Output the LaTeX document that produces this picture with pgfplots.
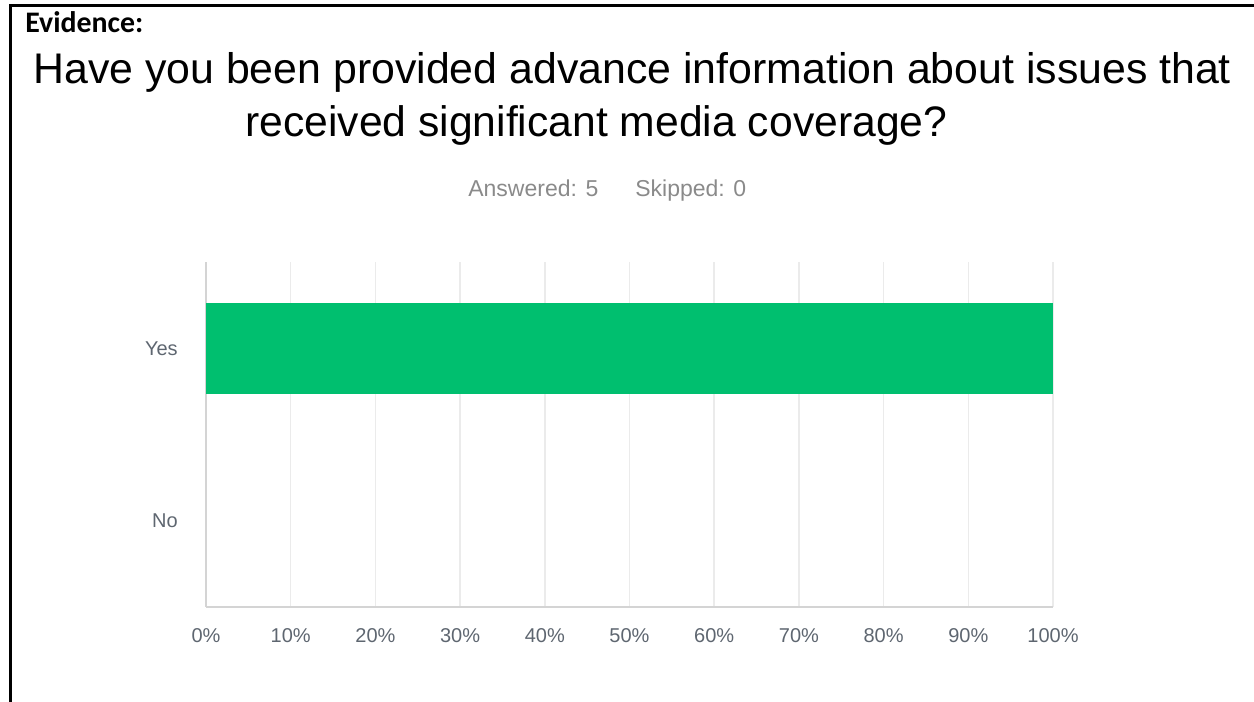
\documentclass[border=0pt]{standalone}
\usepackage{pgfplots}
\pgfplotsset{compat=1.18}
\usepackage{fontspec}
\setmainfont{Liberation Sans}
\newfontfamily\calibri{Carlito}
\definecolor{smgreen}{HTML}{00BF6F}
\definecolor{gridgray}{HTML}{EBEBEB}
\definecolor{axisgray}{HTML}{D4D4D4}
\definecolor{labelgray}{HTML}{5E6670}
\definecolor{subgray}{HTML}{8A8A8A}

% 1 px of the reference = 0.6pt
\begin{document}
\begin{tikzpicture}
\path[use as bounding box] (0,0) rectangle (752.4pt,420.6pt);

% frame (top and left only)
\draw[line width=1.8pt] (6pt,-2pt) -- (6pt,417pt) -- (760pt,417pt);

\node[anchor=base west, inner sep=0pt, font=\calibri\bfseries\fontsize{17.9}{20}\selectfont] at (15pt,400.8pt) {Evidence:};
\node[anchor=base west, inner sep=0pt, font=\fontsize{25.7}{28}\selectfont] at (19.8pt,370.2pt)
  {Have you been provided advance information about issues that};
\node[anchor=base west, inner sep=0pt, font=\fontsize{25.6}{28}\selectfont] at (147pt,338.4pt)
  {received significant media coverage?};
\node[anchor=base west, inner sep=0pt, text=subgray, font=\fontsize{13.8}{15}\selectfont] at (280.8pt,302.4pt) {Answered: 5};
\node[anchor=base west, inner sep=0pt, text=subgray, font=\fontsize{13.8}{15}\selectfont] at (381pt,302.4pt) {Skipped: 0};

\begin{axis}[
  at={(123.6pt,56.4pt)}, anchor=south west,
  scale only axis,
  width=508.2pt, height=207pt,
  xmin=0, xmax=100,
  ymin=-0.5, ymax=1.5,
  xbar, bar width=54.6pt,
  xtick={0,10,...,100},
  xticklabels={0\%,10\%,20\%,30\%,40\%,50\%,60\%,70\%,80\%,90\%,100\%},
  ytick={0,1},
  yticklabels={No,Yes},
  major tick length=0pt,
  xmajorgrids,
  grid style={gridgray, line width=0.9pt},
  axis x line*=bottom, axis y line*=left,
  axis line style={axisgray, line width=1.2pt, -},
  tick label style={text=labelgray, font=\fontsize{12}{14}\selectfont, inner sep=0pt},
  xticklabel style={anchor=center, yshift=-17.4pt},
  yticklabel style={anchor=east, xshift=-16.8pt},
]
% Yes = 100%, No = 0% (no bar drawn)
\addplot[xbar, fill=smgreen, draw=none] coordinates {(100,1)};
\end{axis}
\end{tikzpicture}
\end{document}
